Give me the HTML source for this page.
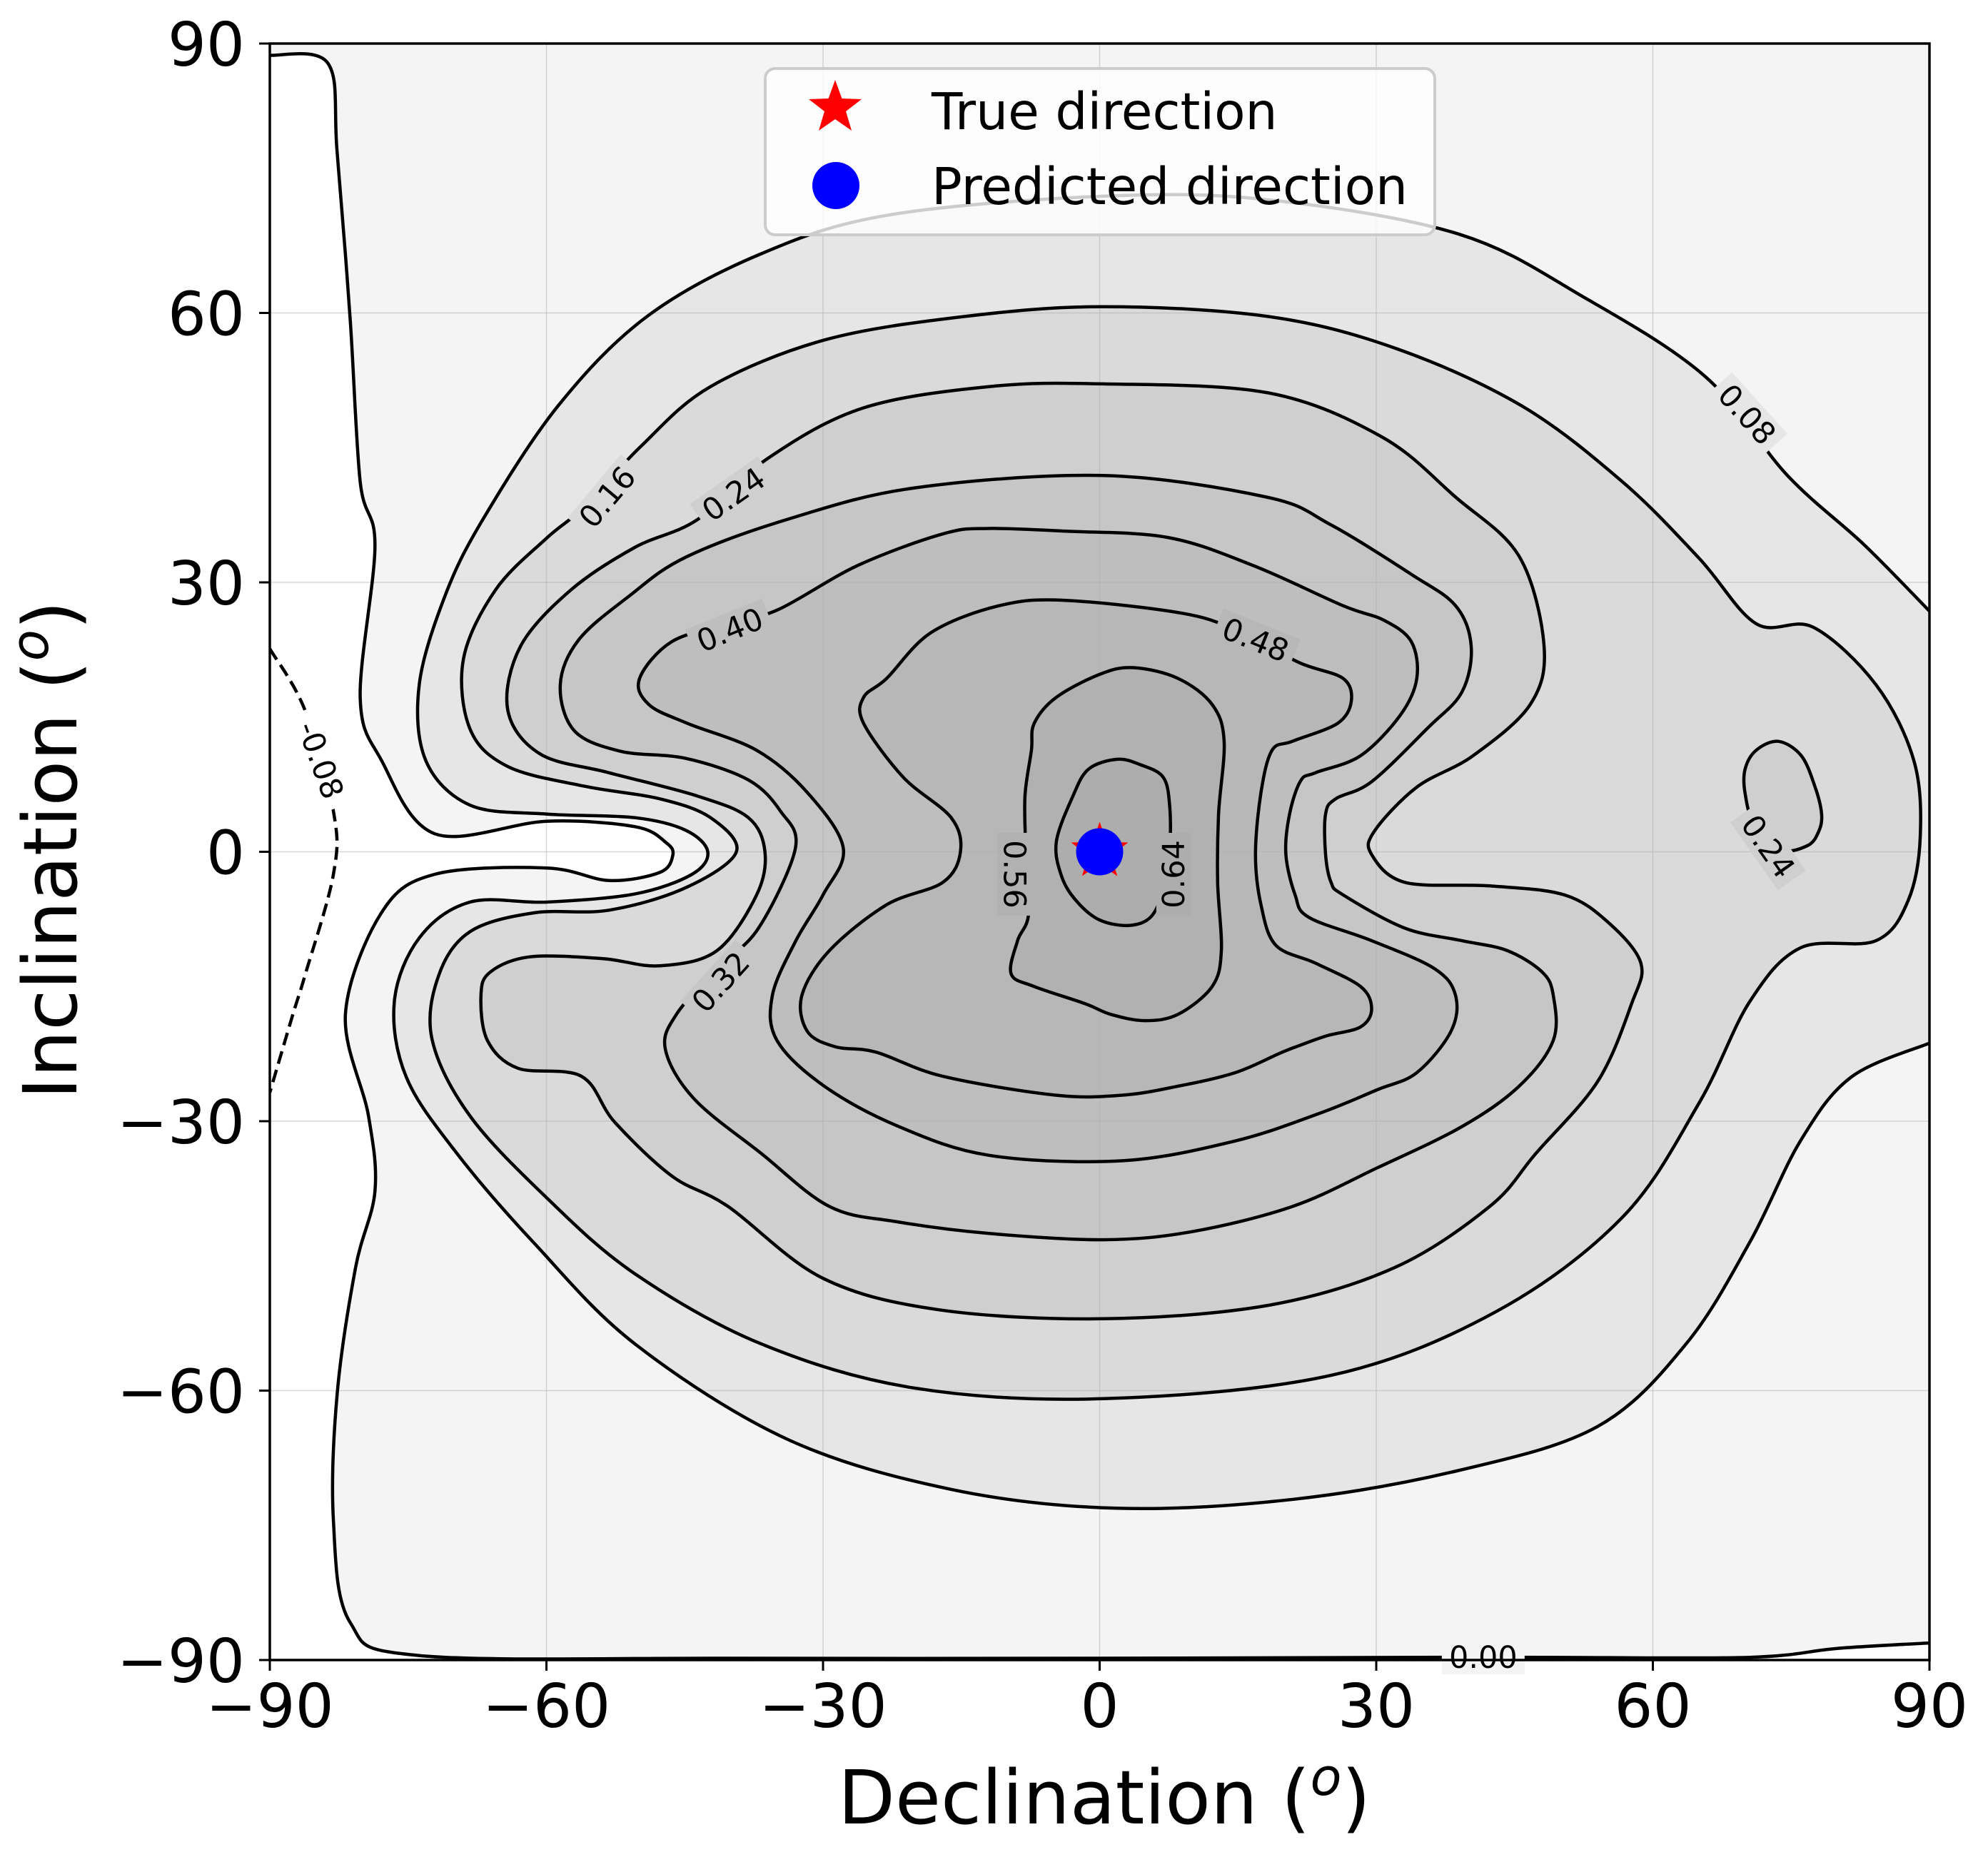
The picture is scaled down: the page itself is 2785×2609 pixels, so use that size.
<!DOCTYPE html>
<html><head><meta charset="utf-8"><style>
html,body{margin:0;padding:0;background:#fff;}
svg{display:block;font-family:"DejaVu Sans","Liberation Sans",sans-serif;}
</style></head><body>
<svg id="chart" width="2785" height="2609" viewBox="0 0 2785 2609" xmlns="http://www.w3.org/2000/svg">
<rect width="2785" height="2609" fill="#fff"/>
<defs><clipPath id="clip"><rect x="378" y="61" width="2325" height="2265"/></clipPath></defs>
<g id="fills" clip-path="url(#clip)"></g>
<g id="grid"></g>
<g id="lines" clip-path="url(#clip)"></g>
<g id="labels"></g>
<g id="axes"></g>
<g id="markers"></g>
</svg>
<script>
const xTicks=[-90,-60,-30,0,30,60,90];
const yTicks=[-90,-60,-30,0,30,60,90];
const levels=[0.00,0.08,0.16,0.24,0.32,0.40,0.48,0.56,0.64];
const levelColors=["#f4f4f4","#e6e6e6","#dadada","#cfcfcf","#c6c6c6","#bebebe","#b7b7b7","#b1b1b1","#adadad"];
const trueDir=[0,0];
const predDir=[0,0];
const c000=[[-90,88.7],[-83.7,87.8],[-82.7,77.9],[-81.3,59.5],[-80.2,41.2],[-78.6,34.1],[-80.2,17.2],[-77.9,10.2],[-72.1,2.0],[-60,3.4],[-50.4,2.8],[-47,1.0],[-46.3,-0.4],[-47.7,-2.3],[-53.2,-3.2],[-60,-1.8],[-72.1,-2.5],[-77.9,-6.8],[-81.8,-18.1],[-79.3,-29.4],[-78.6,-37.8],[-80.7,-46.3],[-82.7,-60.4],[-83.1,-74.5],[-81.3,-85.8],[-73.8,-89.5],[-40,-89.8],[0,-89.8],[34.8,-89.7],[48.5,-89.7],[70.5,-89.7],[80.1,-88.7],[90,-88.1]];
const cNeg08=[[-90,22.6],[-86.2,15.8],[-83.1,4.5],[-83.1,-2.5],[-86.2,-13.8],[-87.5,-18.1],[-90,-26.8]];
const c008=[[90,26.8],[82.9,34.2],[74.6,41.9],[65.7,52.9],[52.6,61.7],[38.9,68.8],[18.3,72.6],[0.4,73],[-22.9,70.9],[-36.7,66.6],[-49.1,59.6],[-58.7,49.7],[-66.9,37],[-71,28.5],[-73.8,18.6],[-73.1,10.2],[-68.3,5.2],[-60,4.2],[-50.4,3.8],[-44.9,2.4],[-42.5,0],[-44.2,-2.5],[-50.4,-4.7],[-60,-5.6],[-68.3,-5.6],[-73.8,-9.6],[-76.5,-16.7],[-75.2,-25.1],[-69.7,-33.6],[-61.4,-43.5],[-50.4,-54.8],[-33.9,-65.4],[-16.1,-71],[1.8,-73.1],[21,-72.1],[38.9,-68.9],[54,-64],[63.6,-54.8],[70.5,-43.5],[76,-32.2],[81.5,-25.1],[90,-21.3]];
const c016=[[-49.7,45.2],[-42.2,51.8],[-29.8,57],[-14.7,59.6],[0.4,60.7],[18.3,59.6],[32,56.1],[45.7,49.7],[56.7,41.2],[65,32.7],[71.2,25.4],[77.4,25],[84.2,18.6],[88.3,10.2],[89,1.7],[87.7,-5.4],[84.2,-9.9],[76,-10.7],[70.5,-16.7],[65,-28],[56.7,-40.7],[43,-51.2],[25.1,-58.3],[0.4,-60.9],[-20.2,-59.7],[-36.7,-54.8],[-50.4,-47],[-60,-38.5],[-68.3,-29.4],[-72.4,-20.9],[-71.7,-13.8],[-68.3,-8.9],[-61.4,-6.8],[-53.2,-6.5],[-44.9,-4],[-39.4,0],[-42.2,3.8],[-47.7,5.9],[-55.9,7.3],[-64.2,9.5],[-68.3,13.7],[-69,21.5],[-65.5,29.2],[-60,34.9],[-55.9,38.4]];
const c024=[[-36,43.8],[-25.7,49.4],[-12,51.8],[0.4,52.1],[18.3,51.1],[30.6,46.2],[38.6,39.5],[45.5,32.9],[48.2,22.9],[46.7,16.4],[40.5,10.7],[34.4,7.2],[29.8,2.3],[29.5,-0.3],[33.1,-3.4],[42.3,-3.8],[50.4,-4.8],[55.2,-7.9],[58.7,-12.4],[57.7,-16.9],[54,-25.6],[47.3,-33.6],[42.3,-39.5],[32,-46.3],[18.3,-50.5],[0.4,-52],[-17.4,-51],[-30,-47.5],[-40.3,-39.5],[-46.4,-36.1],[-52.6,-30.1],[-56.2,-25],[-63.1,-24.1],[-66.4,-21],[-67.1,-16],[-66.1,-13.4],[-61.8,-11.7],[-53.9,-11.9],[-47.7,-12.7],[-41.5,-11],[-37.2,-4.8],[-36.3,0],[-38.1,3.8],[-43.6,6.2],[-53.2,8.8],[-60.7,10.9],[-64.2,15.8],[-62.8,22.9],[-57.3,29.2],[-50.4,33.9],[-43.6,37]];
const c024b=[[70,6.5],[70,9.2],[71.2,11.3],[73.6,12.3],[76.1,10.7],[77.6,7.2],[78.3,4.2],[78,2.3],[76.8,0.7],[73.8,0.2],[71,3]];
const c032=[[0.4,41.9],[18.1,39.5],[25.1,36.4],[33.8,30.9],[38.6,27.4],[40.3,22.9],[39.3,17.8],[35.6,13.8],[29.5,7.8],[25.6,5.9],[24.5,4.2],[24.5,-0.3],[25.1,-3.4],[26.4,-4.8],[33.1,-8.5],[39.3,-9.9],[44.2,-11],[48,-13.4],[49.2,-16],[49.2,-21],[45.5,-26.1],[39.3,-30.6],[30.1,-35.2],[20.9,-39.5],[10,-42.3],[0.4,-43.2],[-12,-42.5],[-22,-41.2],[-29.3,-39.5],[-36.7,-33.6],[-44,-27.5],[-47.1,-22],[-45.9,-18.1],[-41.5,-13],[-37,-8.5],[-33,0.4],[-34.6,4.5],[-38.1,8],[-44.9,10.4],[-52,11.2],[-57,13.5],[-58.5,18.6],[-56.5,23.6],[-51,28.5],[-44.9,32.8],[-33.9,37],[-20.2,40.5]];
const c040=[[-3.7,35.7],[7.4,35],[16.6,31.9],[26.4,27.4],[30.8,25.8],[33.8,23.4],[34.4,19.3],[32.6,15.2],[28.3,10.7],[23.4,8.8],[21.8,7.9],[20.6,4.2],[20.2,-0.3],[21.2,-4.8],[22.7,-7.3],[29.5,-9.9],[36.3,-13],[38.6,-16],[38.1,-20],[34.4,-24.6],[30.1,-26.5],[23.9,-29.1],[14.7,-32.2],[2.5,-34.4],[-12,-33.8],[-22,-30.5],[-30,-26],[-35,-21],[-35.5,-16],[-33,-10],[-30,-4.8],[-27.8,0.4],[-31.7,6.6],[-37.2,11.3],[-44.7,14.3],[-48.9,16.4],[-49.9,19.3],[-46.4,23.4],[-40,25.5],[-34.8,27],[-26.2,31.9],[-17,35.4],[-12.1,36]];
const c048=[[-3.7,28],[9.8,26.4],[16,24],[21.8,21],[26.4,19.3],[27.3,16.8],[25.8,14.3],[20.9,12.3],[18.7,11.3],[17.5,6.6],[16.9,-0.3],[17.5,-5.9],[19.1,-10.4],[23.4,-12.4],[28.3,-15],[29.5,-17.5],[28.3,-19.5],[24.6,-20.5],[21.6,-21.6],[19.6,-22.4],[14.7,-24.6],[8.5,-26.1],[2.5,-27.1],[-4.8,-27.1],[-17,-25],[-24.3,-22.3],[-28.7,-21.7],[-31.7,-20],[-32.3,-16],[-29.3,-11],[-23.1,-5.9],[-17,-3.4],[-15.1,0],[-16.1,3.8],[-21.3,8.3],[-25.6,14.3],[-25.6,17.2],[-23.1,19.3],[-18.3,24.4],[-10.9,27.4]];
const c056=[[0.1,19.8],[3.7,20.5],[8.5,19.3],[12.2,16.4],[13.5,12.3],[12.9,4.2],[12.8,-3.4],[13.2,-11],[12.2,-15],[8.5,-18.1],[4.9,-18.8],[1.2,-18.1],[-1.6,-16.9],[-7.1,-15],[-9.6,-13.6],[-8.9,-9.9],[-7.7,-6.9],[-8,0],[-8.1,6.2],[-7.4,11.3],[-7.1,14.3],[-4.7,17.2]];
const c064=[[-1.2,9.2],[1.9,10.3],[4.4,9.7],[6.9,8.3],[7.6,5],[7.6,0],[7,-4],[5.6,-7.2],[3.2,-8.2],[0,-7.6],[-2.5,-5.5],[-4.1,-2.8],[-4.7,1.1],[-2.9,6.2]];
const labelTexts=["0.08","0.16","0.24","0.40","0.48","0.32","0.56","0.64","0.24","-0.08","0.00"];
const labelPos=[[70.2,48.7],[-53.4,39.5],[-39.7,39.8],[-40.1,24.7],[16.9,23.6],[-41.1,-14.5],[-9.2,-2.5],[8,-2.5],[72.5,0.6],[-84.5,10.2],[41.6,-89.7]];
const labelAngle=[48,-50,-35,-22,22,-48,90,-90,55,70,0];
const labelLevelIdx=[1,2,3,5,6,4,7,8,3,0,0];

const L=378,R=2703,T=61,B=2326;
function X(d){return L+(d+90)/180*(R-L);}
function Y(i){return T+(90-i)/180*(B-T);}
const NS="http://www.w3.org/2000/svg";
function mk(tag,parent){const e=document.createElementNS(NS,tag);parent.appendChild(e);return e;}
function pts(arr){return arr.map(p=>[X(p[0]),Y(p[1])]);}
function smooth(arr,closed){
  const p=pts(arr);const n=p.length;let d="M"+p[0][0].toFixed(1)+","+p[0][1].toFixed(1);
  const get=i=>closed?p[(i+n)%n]:p[Math.max(0,Math.min(n-1,i))];
  const segs=closed?n:n-1;
  for(let i=0;i<segs;i++){const p0=get(i-1),p1=get(i),p2=get(i+1),p3=get(i+2);
    const c1=[p1[0]+(p2[0]-p0[0])/6,p1[1]+(p2[1]-p0[1])/6],c2=[p2[0]-(p3[0]-p1[0])/6,p2[1]-(p3[1]-p1[1])/6];
    d+="C"+c1[0].toFixed(1)+","+c1[1].toFixed(1)+" "+c2[0].toFixed(1)+","+c2[1].toFixed(1)+" "+p2[0].toFixed(1)+","+p2[1].toFixed(1);}
  return d+(closed?"Z":"");
}
const fills=document.getElementById('fills'),lines=document.getElementById('lines');
let f=mk('path',fills);
f.setAttribute('d',smooth(c000,false)+"L"+X(90)+","+Y(90)+"L"+X(-90)+","+Y(90)+"Z");
f.setAttribute('fill',levelColors[0]);


f=mk('path',fills);
f.setAttribute('d',smooth(c008,false)+"Z");
f.setAttribute('fill',levelColors[1]);


const closedSets=[[c016,2],[c024,3],[c024b,3],[c032,4],[c040,5],[c048,6],[c056,7],[c064,8]];
closedSets.forEach(s=>{const e=mk('path',fills);
  e.setAttribute('d',smooth(s[0],true));e.setAttribute('fill',levelColors[s[1]]);
  
  });
const grid=document.getElementById('grid');
xTicks.forEach(t=>{const l=mk('line',grid);l.setAttribute('x1',X(t));l.setAttribute('x2',X(t));l.setAttribute('y1',T);l.setAttribute('y2',B);l.setAttribute('stroke','#b0b0b0');l.setAttribute('stroke-width','1.5');l.setAttribute('opacity','0.5');
  
  });
yTicks.forEach(t=>{const l=mk('line',grid);l.setAttribute('y1',Y(t));l.setAttribute('y2',Y(t));l.setAttribute('x1',L);l.setAttribute('x2',R);l.setAttribute('stroke','#b0b0b0');l.setAttribute('stroke-width','1.5');l.setAttribute('opacity','0.5');
  
  });
function line(arr,closed,name,dash){const e=mk('path',lines);e.setAttribute('d',smooth(arr,closed));e.setAttribute('fill','none');e.setAttribute('stroke','#000');e.setAttribute('stroke-width','4.5');if(dash)e.setAttribute('stroke-dasharray','18,9');
  
  }
line(c000,false,'contour-0.00');
line(cNeg08,false,'contour-neg-0.08',true);
line(c008,false,'contour-0.08');
line(c016,true,'contour-0.16');
line(c024,true,'contour-0.24');
line(c024b,true,'contour-0.24-right');
line(c032,true,'contour-0.32');
line(c040,true,'contour-0.40');
line(c048,true,'contour-0.48');
line(c056,true,'contour-0.56');
line(c064,true,'contour-0.64');
const lab=document.getElementById('labels');
labelTexts.forEach((t,i)=>{const g=mk('g',lab);const x=X(labelPos[i][0]),y=Y(labelPos[i][1]);
  g.setAttribute('transform','translate('+x+','+y+') rotate('+labelAngle[i]+')');
  
  
  const w=t.length*25+16;const r=mk('rect',g);r.setAttribute('x',-w/2);r.setAttribute('y',-24);r.setAttribute('width',w);r.setAttribute('height',48);r.setAttribute('fill',labelLevelIdx[i]===0&&t!=="0.00"?'#fff':levelColors[labelLevelIdx[i]]);
  const tx=mk('text',g);tx.setAttribute('text-anchor','middle');tx.setAttribute('y','15');tx.setAttribute('font-size','43');tx.textContent=t;});
const ax=document.getElementById('axes');
const fr=mk('rect',ax);fr.setAttribute('x',L);fr.setAttribute('y',T);fr.setAttribute('width',R-L);fr.setAttribute('height',B-T);fr.setAttribute('fill','none');fr.setAttribute('stroke','#000');fr.setAttribute('stroke-width','3.5');


function lbl(v){return v<0?"\u2212"+Math.abs(v):String(v);}
xTicks.forEach(t=>{const l=mk('line',ax);l.setAttribute('x1',X(t));l.setAttribute('x2',X(t));l.setAttribute('y1',B);l.setAttribute('y2',B+15);l.setAttribute('stroke','#000');l.setAttribute('stroke-width','3');
  
  
  const tx=mk('text',ax);tx.setAttribute('x',X(t));tx.setAttribute('y',2420);tx.setAttribute('text-anchor','middle');tx.setAttribute('font-size','85');tx.textContent=lbl(t);
  
  });
yTicks.forEach(t=>{const l=mk('line',ax);l.setAttribute('y1',Y(t));l.setAttribute('y2',Y(t));l.setAttribute('x1',L-15);l.setAttribute('x2',L);l.setAttribute('stroke','#000');l.setAttribute('stroke-width','3');
  
  
  const tx=mk('text',ax);tx.setAttribute('x',343);tx.setAttribute('y',Y(t)+31);tx.setAttribute('text-anchor','end');tx.setAttribute('font-size','85');tx.textContent=lbl(t);
  
  });
const mg=document.getElementById('markers');
function star(cx,cy,ro,ri){let d="";for(let k=0;k<10;k++){const r=k%2?ri:ro;const a=-Math.PI/2+k*Math.PI/5;d+=(k?"L":"M")+(cx+r*Math.cos(a)).toFixed(1)+","+(cy+r*Math.sin(a)).toFixed(1);}return d+"Z";}
const st=mk('path',mg);st.setAttribute('d',star(X(trueDir[0]),Y(trueDir[1]),42,17));st.setAttribute('fill','#ff0000');


const ci=mk('circle',mg);ci.setAttribute('cx',X(predDir[0]));ci.setAttribute('cy',Y(predDir[1]));ci.setAttribute('r','33');ci.setAttribute('fill','#0000ff');


</script>
<svg style="position:absolute;left:0;top:0" width="2785" height="2609">
<g font-family="DejaVu Sans, Liberation Sans, sans-serif">
<text x="1547" y="2555" text-anchor="middle" font-size="104">Declination (<tspan font-style="italic" font-size="72" dy="-40">o</tspan><tspan dy="40">)</tspan></text>
<text transform="translate(107,1191) rotate(-90)" text-anchor="middle" font-size="104">Inclination (<tspan font-style="italic" font-size="72" dy="-40">o</tspan><tspan dy="40">)</tspan></text>
<g>
<rect x="1072" y="96" width="938" height="233" rx="14" fill="#fff" fill-opacity="0.8" stroke="#cccccc" stroke-width="4"/>
<path d="M1170,112 L1179.4,138 L1207,139 L1185,156 L1193,183 L1170,167 L1147,183 L1155,156 L1133,139 L1160.6,138 Z" fill="#ff0000"/>
<circle cx="1171" cy="260" r="33" fill="#0000ff"/>
<text x="1305" y="181" font-size="71">True direction</text>
<text x="1305" y="286" font-size="71">Predicted direction</text>
</g>
</g>
</svg>
</body></html>
